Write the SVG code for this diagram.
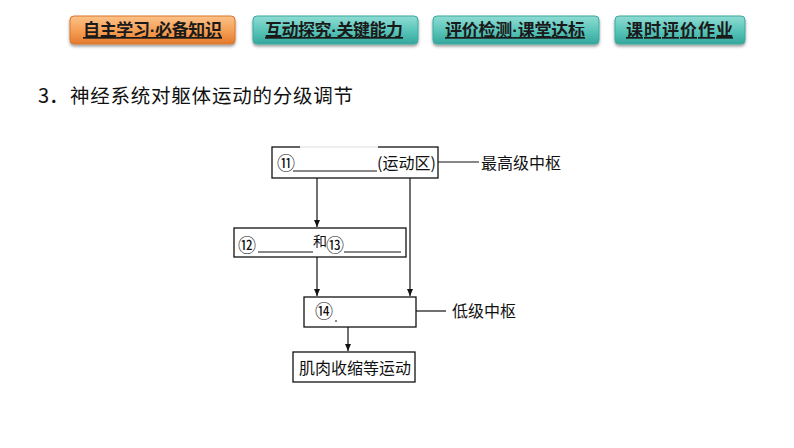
<svg xmlns="http://www.w3.org/2000/svg" width="794" height="448" viewBox="0 0 794 448">
<defs>
<linearGradient id="gOrange" x1="0" y1="0" x2="0" y2="1">
<stop offset="0" stop-color="#fcc288"/>
<stop offset="0.5" stop-color="#f6a158"/>
<stop offset="1" stop-color="#e47a2c"/>
</linearGradient>
<linearGradient id="gTeal" x1="0" y1="0" x2="0" y2="1">
<stop offset="0" stop-color="#8fdcd3"/>
<stop offset="0.5" stop-color="#5cc6bb"/>
<stop offset="1" stop-color="#34a79c"/>
</linearGradient>
<filter id="sh" x="-10%" y="-20%" width="120%" height="160%">
<feGaussianBlur in="SourceAlpha" stdDeviation="1.5"/>
<feOffset dx="0" dy="2"/>
<feComponentTransfer><feFuncA type="linear" slope="0.4"/></feComponentTransfer>
<feMerge><feMergeNode/><feMergeNode in="SourceGraphic"/></feMerge>
</filter>
<marker id="arr" markerWidth="8" markerHeight="8" refX="7" refY="4" orient="auto" markerUnits="userSpaceOnUse">
<path d="M0,1 L7,4 L0,7 Z" fill="#111"/>
</marker>
</defs>
<style>
.btn{stroke-width:1}
.bo{fill:url(#gOrange);stroke:#d8772e}
.bt{fill:url(#gTeal);stroke:#3aa99e}
.bl{font-family:"Noto Sans CJK SC","Noto Sans",sans-serif;font-size:17px;font-weight:bold;fill:#1a1a1a;text-decoration:underline}
.dot{font-family:"Liberation Sans",sans-serif;font-weight:bold}
.box{fill:#fff;stroke:#111;stroke-width:1.3}
.t{font-family:"Noto Sans CJK SC","Noto Sans",sans-serif;fill:#111}
.c{font-size:18px}
.ln{stroke:#111;stroke-width:1.2;fill:none}
.ul{stroke:#111;stroke-width:1}
</style>
<rect width="794" height="448" fill="#fff"/>

<g id="btn1">
<rect class="btn bo" x="70" y="16" width="165" height="28" rx="4" filter="url(#sh)"/>
<text class="bl" x="83" y="36" textLength="139" lengthAdjust="spacing">自主学习<tspan class="dot">·</tspan>必备知识</text>
</g>
<g id="btn2">
<rect class="btn bt" x="253" y="16" width="165" height="28" rx="4" filter="url(#sh)"/>
<text class="bl" x="265" y="36" textLength="138" lengthAdjust="spacing">互动探究<tspan class="dot">·</tspan>关键能力</text>
</g>
<g id="btn3">
<rect class="btn bt" x="433" y="16" width="166" height="28" rx="4" filter="url(#sh)"/>
<text class="bl" x="445" y="36" textLength="140" lengthAdjust="spacing">评价检测<tspan class="dot">·</tspan>课堂达标</text>
</g>
<g id="btn4">
<rect class="btn bt" x="615" y="16" width="130" height="28" rx="4" filter="url(#sh)"/>
<text class="bl" x="626" y="36" textLength="107" lengthAdjust="spacing">课时评价作业</text>
</g>

<g id="title">
<text class="t" x="38" y="103" font-size="20">3．</text>
<text class="t" x="70" y="103" font-size="19.5" textLength="283" lengthAdjust="spacing">神经系统对躯体运动的分级调节</text>
</g>

<g id="connectors">
<line class="ln" x1="317" y1="178" x2="317" y2="227" marker-end="url(#arr)"/>
<line class="ln" x1="410" y1="178" x2="410" y2="296" marker-end="url(#arr)"/>
<line class="ln" x1="317" y1="257" x2="317" y2="296" marker-end="url(#arr)"/>
<line class="ln" x1="348" y1="327" x2="348" y2="351" marker-end="url(#arr)"/>
<line class="ln" x1="438" y1="162" x2="479" y2="162"/>
<line class="ln" x1="416" y1="311" x2="446" y2="311"/>
</g>

<g id="node-cortex">
<rect class="box" x="272" y="147" width="166" height="31"/>
<line x1="300" y1="147" x2="378" y2="147" stroke="#fff" stroke-width="2"/>
<line x1="300" y1="147" x2="378" y2="147" stroke="#ddd" stroke-width="1"/>
<text class="t c" x="277" y="170">⑪</text>
<line class="ul" x1="293" y1="171" x2="377" y2="171"/>
<text class="t" x="377" y="169" font-size="16">(运动区)</text>
<text class="t" x="481" y="169" font-size="16">最高级中枢</text>
</g>

<g id="node-mid">
<rect class="box" x="234" y="228" width="172" height="29"/>
<text class="t c" x="238" y="252">⑫</text>
<line class="ul" x1="258" y1="252" x2="313" y2="252"/>
<text class="t" x="313" y="246" font-size="14">和</text>
<text class="t c" x="326" y="252">⑬</text>
<line class="ul" x1="344" y1="252" x2="401" y2="252"/>
</g>

<g id="node-low">
<rect class="box" x="304" y="297" width="112" height="30"/>
<text class="t c" x="315" y="318">⑭</text>
<line class="ul" x1="335" y1="321" x2="337" y2="321"/>
<text class="t" x="452" y="317" font-size="16">低级中枢</text>
</g>

<g id="node-muscle">
<rect class="box" x="293" y="352" width="122" height="30"/>
<text class="t" x="299" y="374" font-size="16">肌肉收缩等运动</text>
</g>
</svg>
